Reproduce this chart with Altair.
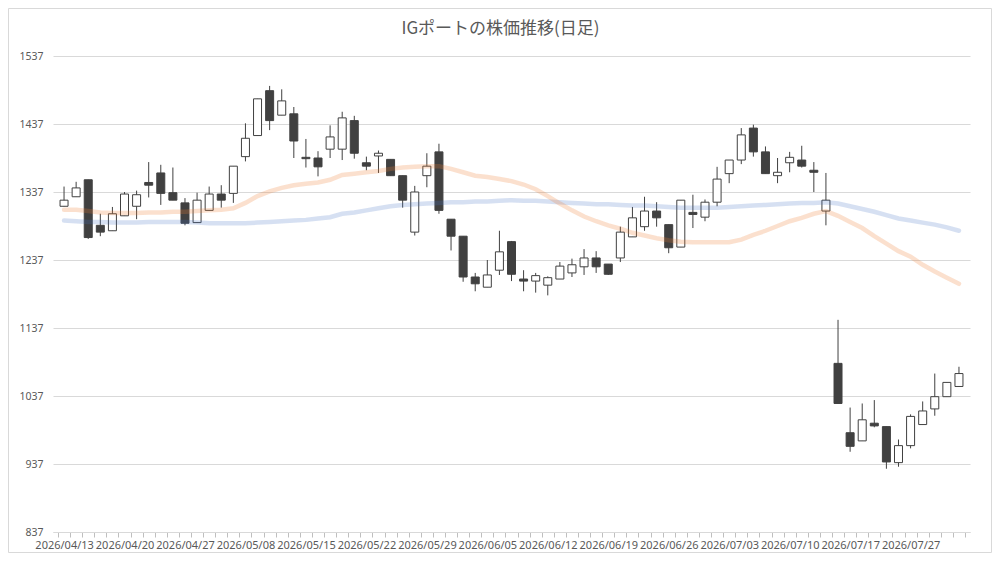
import altair as alt
import pandas as pd

dates = [
    "2026/04/13", "2026/04/14", "2026/04/15", "2026/04/16", "2026/04/17",
    "2026/04/20", "2026/04/21", "2026/04/22", "2026/04/23", "2026/04/24",
    "2026/04/27", "2026/04/28", "2026/04/30", "2026/05/01", "2026/05/07",
    "2026/05/08", "2026/05/11", "2026/05/12", "2026/05/13", "2026/05/14",
    "2026/05/15", "2026/05/18", "2026/05/19", "2026/05/20", "2026/05/21",
    "2026/05/22", "2026/05/25", "2026/05/26", "2026/05/27", "2026/05/28",
    "2026/05/29", "2026/06/01", "2026/06/02", "2026/06/03", "2026/06/04",
    "2026/06/05", "2026/06/08", "2026/06/09", "2026/06/10", "2026/06/11",
    "2026/06/12", "2026/06/15", "2026/06/16", "2026/06/17", "2026/06/18",
    "2026/06/19", "2026/06/22", "2026/06/23", "2026/06/24", "2026/06/25",
    "2026/06/26", "2026/06/29", "2026/06/30", "2026/07/01", "2026/07/02",
    "2026/07/03", "2026/07/06", "2026/07/07", "2026/07/08", "2026/07/09",
    "2026/07/10", "2026/07/13", "2026/07/14", "2026/07/15", "2026/07/16",
    "2026/07/17", "2026/07/21", "2026/07/22", "2026/07/23", "2026/07/24",
    "2026/07/27", "2026/07/28", "2026/07/29", "2026/07/30", "2026/07/31",
]

opens = [1316, 1330, 1355, 1288, 1280, 1302, 1316, 1351, 1365, 1336,
         1321, 1292, 1310, 1334, 1335, 1389, 1420, 1486, 1450, 1452,
         1388, 1387, 1400, 1400, 1442, 1380, 1390, 1385, 1361, 1278,
         1361, 1396, 1297, 1272, 1212, 1197, 1222, 1264, 1209, 1206,
         1200, 1209, 1218, 1227, 1240, 1231, 1240, 1271, 1286, 1309,
         1289, 1256, 1307, 1300, 1322, 1364, 1384, 1431, 1396, 1361,
         1380, 1384, 1369, 1309, 1085, 983, 971, 997, 992, 939,
         964, 995, 1018, 1036, 1051]
highs = [1345, 1352, 1355, 1305, 1315, 1337, 1339, 1381, 1377, 1373,
         1328, 1336, 1345, 1347, 1375, 1438, 1474, 1493, 1488, 1462,
         1415, 1397, 1435, 1455, 1449, 1389, 1398, 1385, 1361, 1346,
         1394, 1408, 1297, 1272, 1218, 1237, 1280, 1265, 1222, 1218,
         1213, 1234, 1239, 1253, 1250, 1231, 1286, 1315, 1330, 1322,
         1289, 1325, 1333, 1326, 1374, 1384, 1431, 1436, 1404, 1387,
         1396, 1405, 1381, 1365, 1149, 1020, 1026, 1031, 992, 973,
         1010, 1029, 1070, 1057, 1080]
lows = [1316, 1330, 1268, 1272, 1280, 1302, 1297, 1329, 1318, 1325,
        1288, 1292, 1310, 1314, 1321, 1382, 1420, 1428, 1450, 1387,
        1373, 1360, 1387, 1384, 1386, 1369, 1365, 1361, 1314, 1273,
        1344, 1305, 1251, 1205, 1191, 1197, 1215, 1206, 1191, 1189,
        1185, 1209, 1212, 1215, 1218, 1215, 1234, 1271, 1280, 1286,
        1247, 1256, 1284, 1294, 1316, 1350, 1378, 1389, 1364, 1350,
        1366, 1373, 1337, 1288, 1026, 955, 971, 991, 930, 933,
        960, 995, 1008, 1036, 1051]
closes = [1325, 1343, 1270, 1278, 1305, 1334, 1333, 1347, 1335, 1325,
          1291, 1325, 1334, 1325, 1375, 1416, 1474, 1442, 1471, 1412,
          1386, 1374, 1418, 1446, 1394, 1375, 1394, 1361, 1325, 1337,
          1375, 1310, 1272, 1212, 1202, 1215, 1249, 1216, 1206, 1214,
          1211, 1228, 1230, 1240, 1227, 1216, 1278, 1299, 1309, 1299,
          1255, 1325, 1304, 1322, 1356, 1384, 1421, 1396, 1364, 1366,
          1388, 1375, 1366, 1325, 1026, 963, 1002, 993, 940, 964,
          1007, 1015, 1036, 1057, 1070]

ma_short = [1311, 1311, 1309, 1307, 1306, 1306, 1306, 1307, 1307, 1308,
            1308, 1309, 1310, 1311, 1313, 1321, 1331, 1338, 1343, 1347,
            1349, 1351, 1355, 1362, 1364, 1366, 1368, 1371, 1373, 1374,
            1375, 1375, 1371, 1366, 1361, 1359, 1356, 1353, 1348, 1341,
            1331, 1320, 1310, 1301, 1294, 1288, 1283, 1277, 1273, 1269,
            1266, 1264, 1263, 1263, 1263, 1263, 1267, 1274, 1280, 1287,
            1294, 1299, 1305, 1309, 1302, 1293, 1284, 1272, 1261, 1250,
            1242, 1230, 1220, 1211, 1202]
ma_long = [1295, 1294, 1293, 1293, 1292, 1292, 1292, 1293, 1293, 1293,
           1293, 1292, 1291, 1291, 1291, 1291, 1292, 1293, 1294, 1295,
           1296, 1298, 1300, 1305, 1307, 1310, 1313, 1316, 1318, 1319,
           1320, 1321, 1322, 1322, 1323, 1323, 1324, 1325, 1324, 1324,
           1323, 1322, 1321, 1320, 1319, 1319, 1318, 1317, 1317, 1316,
           1315, 1314, 1314, 1314, 1314, 1315, 1316, 1317, 1318, 1319,
           1320, 1321, 1321, 1322, 1320, 1316, 1312, 1308, 1303, 1298,
           1295, 1292, 1289, 1285, 1280]

y_ticks = [837, 937, 1037, 1137, 1237, 1337, 1437, 1537]

n = len(dates)
df = pd.DataFrame({
    "idx": list(range(n)),
    "date": dates,
    "open": opens,
    "high": highs,
    "low": lows,
    "close": closes,
    "ma_short": ma_short,
    "ma_long": ma_long,
})
df["dir"] = ["up" if c >= o else "down" for o, c in zip(opens, closes)]

W, H = 917, 476
PAD_TOP = 48
GRAY = "#595959"
DARK = "#404040"

xscale = alt.Scale(domain=[-0.5, n - 0.5], nice=False, zero=False)
yscale = alt.Scale(domain=[y_ticks[0], y_ticks[-1]], nice=False, zero=False)

labels_js = "[" + ",".join("'" + d + "'" for d in dates) + "]"
xaxis = alt.Axis(
    values=[i - 0.5 for i in range(n + 1)],
    labelExpr=f"((datum.value + 0.5) % 5 === 0 && datum.value + 0.5 < {n}) ? {labels_js}[datum.value + 0.5] : ''",
    labelOffset=W / n / 2,
    grid=False,
    title=None,
    tickSize=5,
    tickColor="#BFBFBF",
    domainColor="#D9D9D9",
    labelColor=GRAY,
    labelFont="Noto Sans",
    labelFontSize=11,
    labelOverlap=False,
    labelFlush=False,
    labelPadding=2,
    labelAngle=0,
)
yaxis = alt.Axis(
    values=y_ticks,
    format="d",
    grid=True,
    gridColor="#D9D9D9",
    domain=False,
    ticks=False,
    labelColor=GRAY,
    labelFont="Noto Sans",
    labelFontSize=10.5,
    labelPadding=10,
    title=None,
)

base = alt.Chart(df).encode(x=alt.X("idx:Q", scale=xscale, axis=xaxis))

wicks = base.mark_rule(color=DARK, strokeWidth=1).encode(
    y=alt.Y("low:Q", scale=yscale, axis=yaxis),
    y2="high:Q",
)
bodies = base.mark_bar(size=8, stroke=DARK, strokeWidth=1).encode(
    y=alt.Y("open:Q", scale=yscale),
    y2="close:Q",
    fill=alt.Fill("dir:N", scale=alt.Scale(domain=["up", "down"], range=["#FFFFFF", DARK]), legend=None),
)
line_long = base.mark_line(color="#4472C4", opacity=0.22, strokeWidth=4.5, strokeCap="round").encode(
    y=alt.Y("ma_long:Q", scale=yscale)
)
line_short = base.mark_line(color="#ED7D31", opacity=0.24, strokeWidth=4.5, strokeCap="round").encode(
    y=alt.Y("ma_short:Q", scale=yscale)
)

frame = alt.Chart(alt.Data(values=[{"k": 1}])).mark_rect(
    fillOpacity=0, stroke="#D9D9D9", strokeWidth=1
).encode(
    x=alt.value(-44.5), x2=alt.value(W + 21.5),
    y=alt.value(-(PAD_TOP - 0.5)), y2=alt.value(H + 20.5),
)

chart = alt.layer(frame, wicks, bodies, line_long, line_short).properties(
    width=W,
    height=H,
    title=alt.TitleParams(
        text="IGポートの株価推移(日足)",
        font="Noto Sans CJK JP",
        fontSize=17,
        fontWeight="normal",
        color=GRAY,
        frame="group",
        dx=-11,
        offset=18 - (PAD_TOP - 0.5),
    ),
    padding={"left": 45, "top": PAD_TOP, "right": 22, "bottom": 21},
    autosize=alt.AutoSizeParams(type="none"),
).configure_view(stroke=None)

chart.save("out.html", embed_options={"renderer": "svg", "actions": False})
